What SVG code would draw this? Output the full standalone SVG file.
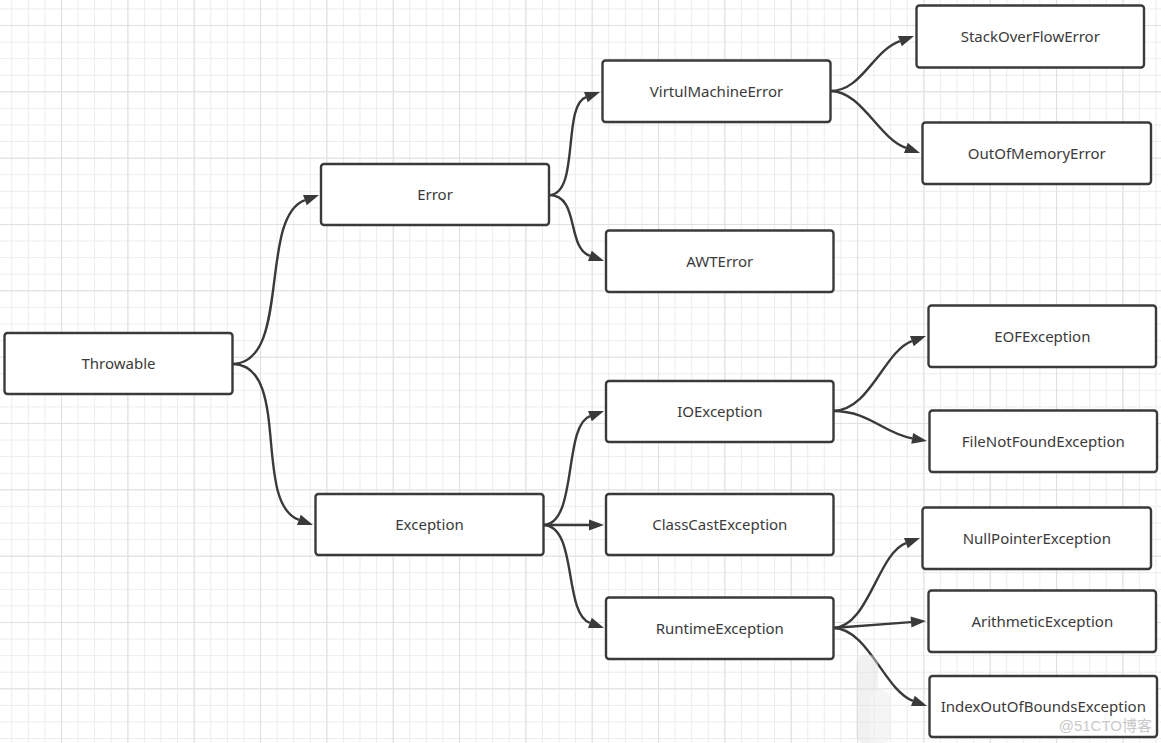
<svg xmlns="http://www.w3.org/2000/svg" width="1161" height="743" viewBox="0 0 1161 743">
<style>
.box rect{fill:#fff;stroke:#3a3a3a;stroke-width:2.4}
.box text{font-family:"Noto Sans","Open Sans","DejaVu Sans",sans-serif;font-size:15px;fill:#3a3a3a;text-anchor:middle}
#connectors path{fill:none;stroke:#3a3a3a;stroke-width:2.4}
.wm{font-family:"Liberation Sans","Noto Sans CJK SC",sans-serif;font-size:15px;fill:#c9c9c9}
</style>
<defs>
<pattern id="minor" patternUnits="userSpaceOnUse" x="11.25" y="8.42" width="16.583" height="16.583">
<path d="M0.5,0V16.583M0,0.5H16.583" fill="none" stroke="#ececec" stroke-width="1"/>
</pattern>
<pattern id="major" patternUnits="userSpaceOnUse" x="61" y="25" width="66.333" height="66.333">
<path d="M0.5,0V66.333M0,0.5H66.333" fill="none" stroke="#e0e0e0" stroke-width="1.2"/>
</pattern>
<marker id="arr" markerUnits="userSpaceOnUse" markerWidth="16" markerHeight="12" refX="0" refY="6" orient="auto" overflow="visible">
<path d="M0,0.5L15,6L0,11.5z" fill="#3a3a3a"/>
</marker>
</defs>
<rect width="1161" height="743" fill="#fff"/>
<rect width="1161" height="743" fill="url(#minor)"/>
<rect width="1161" height="743" fill="url(#major)"/>

<g id="connectors">
<path d="M232,364C292,364 258,217.2 304.9,200.1" marker-end="url(#arr)"/>
<path d="M232,364C292,364 252,502.8 298.9,519.9" marker-end="url(#arr)"/>
<path d="M549,195C580,195 562,105.8 585.9,97.1" marker-end="url(#arr)"/>
<path d="M549,195C580,195 566,247.2 589.9,255.9" marker-end="url(#arr)"/>
<path d="M830,91C862,91 871.7,51.4 899.9,41.1" marker-end="url(#arr)"/>
<path d="M830,91C862,91 877.7,137.6 905.9,147.9" marker-end="url(#arr)"/>
<path d="M833,411C870,411 883.7,351.4 911.9,341.1" marker-end="url(#arr)"/>
<path d="M833,411C870,411 882.6,433.2 912.2,438.4" marker-end="url(#arr)"/>
<path d="M543,525C578,525 563,425.7 589.9,416.1" marker-end="url(#arr)"/>
<path d="M543,525L589,525" marker-end="url(#arr)"/>
<path d="M543,525C578,525 563,613.3 589.9,622.9" marker-end="url(#arr)"/>
<path d="M833,628C868,628 877.7,553.4 905.9,543.1" marker-end="url(#arr)"/>
<path d="M833,628L911,622.1" marker-end="url(#arr)"/>
<path d="M833,628C868,628 884.7,690.6 912.9,700.9" marker-end="url(#arr)"/>
</g>

<g id="throwable" class="box"><rect x="4.5" y="333" width="228" height="61" rx="3"/><text x="118.5" y="369">Throwable</text></g>
<g id="error" class="box"><rect x="321" y="164" width="228" height="61" rx="3"/><text x="435" y="200">Error</text></g>
<g id="exception" class="box"><rect x="315.5" y="494" width="228" height="61" rx="3"/><text x="429.5" y="530">Exception</text></g>
<g id="virtualmachineerror" class="box"><rect x="602.5" y="60.5" width="228" height="61.5" rx="3"/><text x="716.5" y="96.5">VirtulMachineError</text></g>
<g id="awterror" class="box"><rect x="606" y="230.5" width="227.5" height="61.5" rx="3"/><text x="719.8" y="266.5">AWTError</text></g>
<g id="stackoverflowerror" class="box"><rect x="916.5" y="5.5" width="227.5" height="62" rx="3"/><text x="1030.3" y="41.5">StackOverFlowError</text></g>
<g id="outofmemoryerror" class="box"><rect x="922.5" y="122.5" width="228.5" height="61.5" rx="3"/><text x="1036.8" y="158.5">OutOfMemoryError</text></g>
<g id="ioexception" class="box"><rect x="606" y="381" width="227.5" height="61" rx="3"/><text x="719.8" y="417">IOException</text></g>
<g id="classcastexception" class="box"><rect x="606" y="494" width="227.5" height="61" rx="3"/><text x="719.8" y="530">ClassCastException</text></g>
<g id="runtimeexception" class="box"><rect x="606" y="597.5" width="227.5" height="61.5" rx="3"/><text x="719.8" y="633.5">RuntimeException</text></g>
<g id="eofexception" class="box"><rect x="928.5" y="305.5" width="227.5" height="61.5" rx="3"/><text x="1042.3" y="341.5">EOFException</text></g>
<g id="filenotfoundexception" class="box"><rect x="929.5" y="410.5" width="227.5" height="61.5" rx="3"/><text x="1043.3" y="446.5">FileNotFoundException</text></g>
<g id="nullpointerexception" class="box"><rect x="922.5" y="507.5" width="228.5" height="61.5" rx="3"/><text x="1036.8" y="543.5">NullPointerException</text></g>
<g id="arithmeticexception" class="box"><rect x="928.5" y="590.5" width="227.5" height="61.5" rx="3"/><text x="1042.3" y="626.5">ArithmeticException</text></g>
<g id="indexoutofboundsexception" class="box"><rect x="929.5" y="676" width="227.5" height="61" rx="3"/><text x="1043.3" y="712">IndexOutOfBoundsException</text></g>

<g opacity="0.45">
<rect x="856" y="655" width="22" height="88" rx="8" fill="#e2e2e2"/>
<rect x="870" y="690" width="20" height="53" rx="8" fill="#ebebeb"/>
</g>
<text class="wm" x="1152" y="731" text-anchor="end">@51CTO博客</text>
</svg>
